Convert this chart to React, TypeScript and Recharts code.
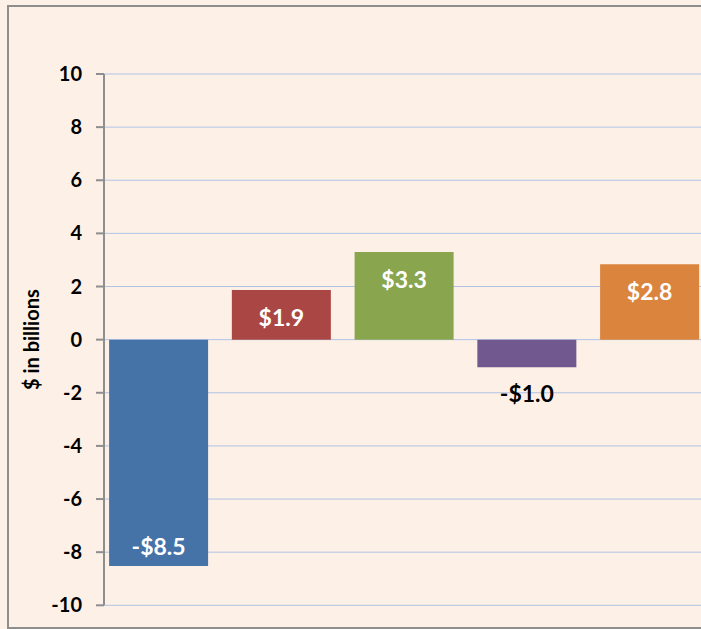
import React from 'react';
import { BarChart, Bar, XAxis, YAxis, CartesianGrid, Cell, LabelList } from 'recharts';

const categories = ['Item 1', 'Item 2', 'Item 3', 'Item 4', 'Item 5'];
const values = [-8.52, 1.87, 3.3, -1.04, 2.84];
const barColors = ['#4572A7', '#AA4643', '#89A54E', '#71588F', '#DB843D'];
const yTicks = [-10, -8, -6, -4, -2, 0, 2, 4, 6, 8, 10];
const yAxisTitle = '$ in billions';

const data = categories.map((name, i) => ({ name, value: values[i] }));

const FONT = 'Lato, "Open Sans", sans-serif';
const BG = '#FDF0E6';
const GRAY = '#8E8E8E';

const fmt = (v: number) => `${v < 0 ? '-' : ''}$${Math.abs(v).toFixed(1)}`;

const BarLabel = (props: any) => {
  const { x, y, width, height, value } = props;
  const top = Math.min(y, y + height);
  const bottom = Math.max(y, y + height);
  const h = bottom - top;
  const cx = x + width / 2;
  let ty: number;
  let fill = '#FFFFFF';
  if (value >= 0) {
    ty = top + 27;
  } else if (h > 45) {
    ty = bottom - 20;
  } else {
    ty = bottom + 26;
    fill = '#000000';
  }
  return (
    <text x={cx} y={ty} textAnchor="middle" dominantBaseline="central" fill={fill}
      style={{ fontFamily: FONT, fontWeight: 700, fontSize: 23 }}>
      {fmt(value)}
    </text>
  );
};

const AxisTitle = (props: any) => {
  const { viewBox } = props;
  const x = viewBox.x + 22;
  const y = viewBox.y + viewBox.height / 2;
  return (
    <text x={x} y={y} textAnchor="middle" dominantBaseline="central" transform={`rotate(-90 ${x} ${y})`}
      fill="#000" style={{ fontFamily: FONT, fontWeight: 700, fontSize: 20 }}>
      {yAxisTitle}
    </text>
  );
};

export default function App() {
  return (
    <div style={{ position: 'absolute', left: 0, top: 0, width: 701, height: 629, overflow: 'hidden', background: BG }}>
      <div style={{ position: 'absolute', left: 7, top: 5, width: 760, height: 620, border: `2px solid ${GRAY}`, background: BG }}>
        <BarChart width={760} height={620} data={data} margin={{ top: 67, right: 58.15, bottom: 21.7, left: 0 }}>
          <CartesianGrid vertical={false} stroke="#AFC3E7" strokeWidth={1} />
          <XAxis dataKey="name" hide padding={{ left: -6.9, right: 0 }} />
          <YAxis
            width={95}
            domain={[-10, 10]}
            ticks={yTicks}
            interval={0}
            tickSize={8}
            tickMargin={14}
            axisLine={{ stroke: GRAY, strokeWidth: 2 }}
            tickLine={{ stroke: GRAY, strokeWidth: 2 }}
            tick={{ fill: '#000', fontSize: 20, fontWeight: 700, fontFamily: FONT }}
            label={<AxisTitle />}
          />
          <Bar dataKey="value" barSize={99} isAnimationActive={false}>
            {data.map((d, i) => (
              <Cell key={d.name} fill={barColors[i]} />
            ))}
            <LabelList dataKey="value" content={<BarLabel />} />
          </Bar>
        </BarChart>
      </div>
    </div>
  );
}
